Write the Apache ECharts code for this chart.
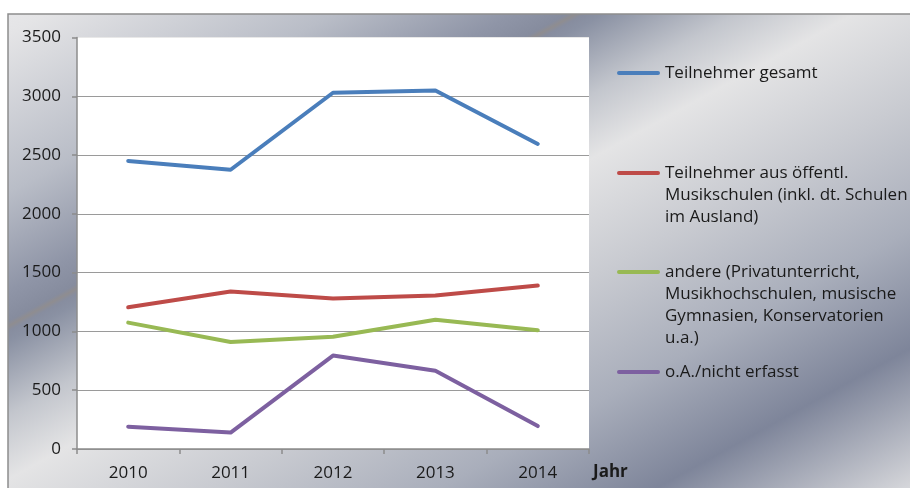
<!DOCTYPE html>
<html>
<head>
<meta charset="utf-8">
<script src="https://cdn.jsdelivr.net/npm/echarts@6/dist/echarts.min.js"></script>
<style>
  html, body { margin: 0; padding: 0; background: #fff; }
  #chart { width: 910px; height: 488px; }
</style>
</head>
<body>
<div id="chart"></div>
<script>
/* Teilnehmer nach Herkunft, 2010–2014 */
const years = ["2010", "2011", "2012", "2013", "2014"];
const yTicks = [0, 500, 1000, 1500, 2000, 2500, 3000, 3500];

const gesamt = [2450, 2375, 3030, 3050, 2595];
const oeffentl = [1205, 1340, 1280, 1305, 1390];
const andere = [1075, 910, 955, 1100, 1010];
const ohneAngabe = [190, 140, 795, 665, 195];

const names = [
  "Teilnehmer gesamt",
  "Teilnehmer aus öffentl.\nMusikschulen (inkl. dt. Schulen\nim Ausland)",
  "andere (Privatunterricht,\nMusikhochschulen, musische\nGymnasien, Konservatorien\nu.a.)",
  "o.A./nicht erfasst"
];
const colors = ["#4a7ebb", "#be4b48", "#98b954", "#7d60a0"];
const values = [gesamt, oeffentl, andere, ohneAngabe];

const FONT = "'Open Sans', 'Noto Sans', sans-serif";
const LINE_H = 22;
const ICON_W = 43;

const chart = echarts.init(document.getElementById("chart"));

// metallic frame background
const frameFill = new echarts.graphic.LinearGradient(0, 0, 417, 758, [
  { offset: 0.00, color: "#e9e9eb" },
  { offset: 0.04, color: "#e4e4e6" },
  { offset: 0.20, color: "#b9bdc7" },
  { offset: 0.30, color: "#8f95a7" },
  { offset: 0.33, color: "#868c9e" },
  { offset: 0.335, color: "#8f8d90" },
  { offset: 0.34, color: "#878d9f" },
  { offset: 0.35, color: "#8a91a3" },
  { offset: 0.425, color: "#c3c6cd" },
  { offset: 0.49, color: "#e4e4e5" },
  { offset: 0.61, color: "#c9cbd1" },
  { offset: 0.74, color: "#a9aebb" },
  { offset: 0.86, color: "#7e859a" },
  { offset: 1.00, color: "#d5d6da" }
], true);

// legend line sits on the first text line, not the middle of the block
function legendIcon(lines) {
  const h = lines * LINE_H;
  const w = ICON_W;
  return "path://M0,0h0.01v0.01h-0.01z " +
    "M2,9h" + (w - 4) + "a2,2 0 0 1 0,4h-" + (w - 4) + "a2,2 0 0 1 0,-4z " +
    "M0," + (h - 0.01) + "h0.01v0.01h-0.01z";
}

const legendTops = [62, 162, 261, 361];

const option = {
  animation: false,
  backgroundColor: "#fff",
  textStyle: { fontFamily: FONT },
  graphic: [{
    type: "rect",
    z: -10,
    shape: { x: 8, y: 14, width: 930, height: 520 },
    style: { fill: frameFill, stroke: "#8d8d8d", lineWidth: 1.5 }
  }],
  legend: names.map((n, i) => {
    const lines = n.split("\n").length;
    return {
      data: [n],
      orient: "vertical",
      left: 617,
      top: legendTops[i],
      padding: 0,
      selectedMode: false,
      icon: legendIcon(lines),
      itemWidth: ICON_W,
      itemHeight: lines * LINE_H,
      textStyle: {
        fontFamily: FONT,
        fontSize: 17,
        lineHeight: LINE_H,
        color: "#1a1a1a"
      }
    };
  }),
  grid: {
    left: 77, top: 37.5, right: 321, bottom: 39,
    show: true, backgroundColor: "#fff", borderWidth: 0,
    containLabel: false,
    outerBoundsMode: "none"
  },
  xAxis: {
    type: "category",
    data: years,
    boundaryGap: true,
    name: "Jahr",
    nameLocation: "end",
    nameGap: 4,
    nameTextStyle: {
      fontFamily: FONT, fontSize: 17, fontWeight: "bold", color: "#1a1a1a",
      verticalAlign: "top", lineHeight: 46
    },
    axisLine: { lineStyle: { color: "#8c8c8c", width: 1.5 } },
    axisTick: { show: true, length: 5, lineStyle: { color: "#8c8c8c", width: 1.5 } },
    axisLabel: { fontFamily: FONT, fontSize: 17, color: "#1a1a1a", margin: 16 }
  },
  yAxis: {
    type: "value",
    min: yTicks[0],
    max: yTicks[yTicks.length - 1],
    interval: 500,
    axisLine: { show: true, lineStyle: { color: "#8c8c8c", width: 1.5 } },
    axisTick: { show: true, length: 5, lineStyle: { color: "#8c8c8c", width: 1.5 } },
    axisLabel: {
      fontFamily: FONT, fontSize: 17, color: "#1a1a1a", margin: 16,
      formatter: v => String(v)
    },
    splitLine: {
      lineStyle: {
        color: ["#9a9a9a", "#9a9a9a", "#9a9a9a", "#9a9a9a", "#9a9a9a", "#9a9a9a", "#9a9a9a", "#e8e8e8"],
        width: 1.2
      }
    }
  },
  series: names.map((n, i) => ({
    name: n,
    type: "line",
    data: values[i],
    symbol: "none",
    color: colors[i],
    lineStyle: { color: colors[i], width: 4, cap: "round", join: "round" },
    z: 10 - i
  }))
};

chart.setOption(option);
</script>
</body>
</html>
